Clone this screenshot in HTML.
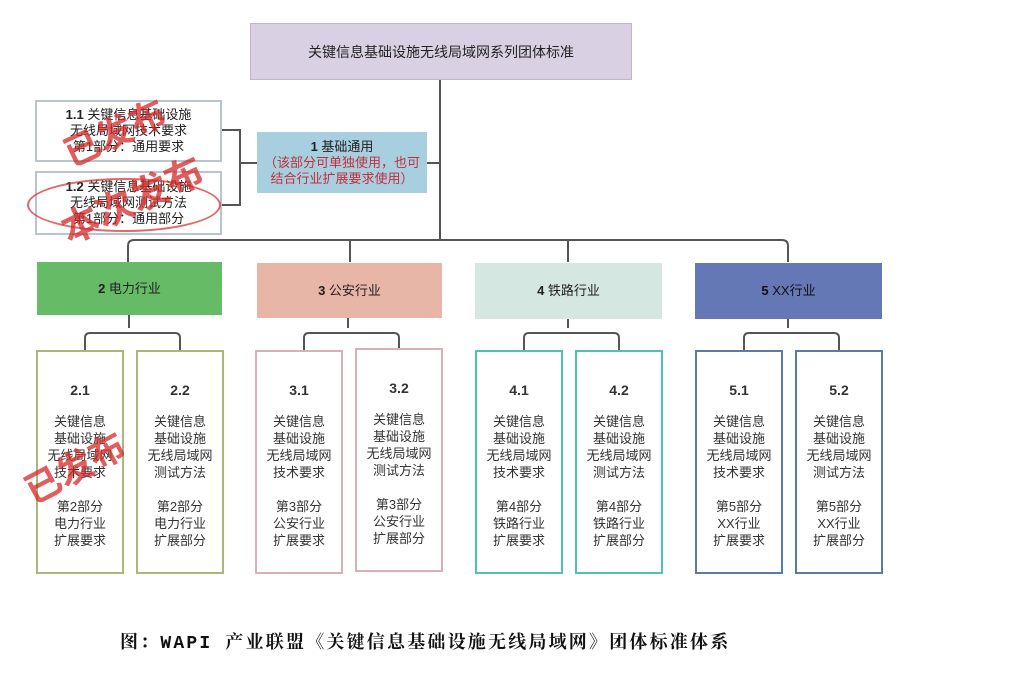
<!DOCTYPE html>
<html><head><meta charset="utf-8"><style>
body{margin:0;width:1027px;height:673px;background:#fff;position:relative;overflow:hidden;font-family:"Liberation Sans","Noto Sans CJK SC",sans-serif;color:#333}
.b{position:absolute;box-sizing:border-box;display:flex;align-items:center;justify-content:center;text-align:center;font-size:13px;line-height:16px}
.c{position:absolute;box-sizing:border-box;border:2px solid;text-align:center;font-size:13px;line-height:17px;padding-top:30px;width:88px;height:224px;background:#fff}
.c b{display:block;font-size:14px;margin-bottom:14px}
.st{position:absolute;color:rgba(215,40,40,.75);font-weight:bold;white-space:nowrap}
</style></head><body>
<svg style="position:absolute;left:0;top:0" width="1027" height="673" fill="none" stroke="#555" stroke-width="2">
<path d="M440 80V240M427 163H440"/>
<path d="M222 130H240V205H222M240 163H257"/>
<path d="M128 262V246Q128 240 134 240H782Q788 240 788 246V262M350 240V262M568 240V262"/>
<g id="br"><path d="M129 315V328M85 350V338Q85 333 90 333H175Q180 333 180 338V350"/></g>
<use href="#br" x="219"/><use href="#br" x="439"/><use href="#br" x="659"/>
</svg>
<div class="b" style="left:250px;top:23px;width:382px;height:57px;background:#d9d0e3;border:1px solid #c0b3d0;font-size:14px;color:#222">关键信息基础设施无线局域网系列团体标准</div>
<div class="b" style="left:35px;top:100px;width:187px;height:62px;border:2px solid #b8c4d0;background:#fff;color:#222"><div><b>1.1</b> 关键信息基础设施<br>无线局域网技术要求<br>第1部分：通用要求</div></div>
<div class="b" style="left:35px;top:171px;width:187px;height:64px;border:2px solid #b8c4d0;background:#fff;color:#222"><div><b>1.2</b> 关键信息基础设施<br>无线局域网测试方法<br>第1部分：通用部分</div></div>
<div class="b" style="left:257px;top:132px;width:170px;height:61px;background:#a8cfe0;color:#222"><div><b>1</b> 基础通用<br><span style="color:#c0303a">（该部分可单独使用，也可<br>结合行业扩展要求使用）</span></div></div>
<div class="b" style="left:37px;top:262px;width:185px;height:53px;background:#66bb66;color:#222"><b>2</b>&nbsp;电力行业</div>
<div class="b" style="left:257px;top:263px;width:185px;height:55px;background:#e8b6a6;color:#222"><b>3</b>&nbsp;公安行业</div>
<div class="b" style="left:475px;top:263px;width:187px;height:56px;background:#d4e8e1;color:#222"><b>4</b>&nbsp;铁路行业</div>
<div class="b" style="left:695px;top:263px;width:187px;height:56px;background:#6378b5;color:#111"><b>5</b>&nbsp;XX行业</div>
<div class="c" style="left:36px;top:350px;border-color:#a9b878"><b>2.1</b>关键信息<br>基础设施<br>无线局域网<br>技术要求<br><br>第2部分<br>电力行业<br>扩展要求</div>
<div class="c" style="left:136px;top:350px;border-color:#a9b878"><b>2.2</b>关键信息<br>基础设施<br>无线局域网<br>测试方法<br><br>第2部分<br>电力行业<br>扩展部分</div>
<div class="c" style="left:255px;top:350px;border-color:#d8b0b6"><b>3.1</b>关键信息<br>基础设施<br>无线局域网<br>技术要求<br><br>第3部分<br>公安行业<br>扩展要求</div>
<div class="c" style="left:355px;top:348px;border-color:#d8b0b6"><b>3.2</b>关键信息<br>基础设施<br>无线局域网<br>测试方法<br><br>第3部分<br>公安行业<br>扩展部分</div>
<div class="c" style="left:475px;top:350px;border-color:#4cc4b0"><b>4.1</b>关键信息<br>基础设施<br>无线局域网<br>技术要求<br><br>第4部分<br>铁路行业<br>扩展要求</div>
<div class="c" style="left:575px;top:350px;border-color:#4cc4b0"><b>4.2</b>关键信息<br>基础设施<br>无线局域网<br>测试方法<br><br>第4部分<br>铁路行业<br>扩展部分</div>
<div class="c" style="left:695px;top:350px;border-color:#5a7ca4"><b>5.1</b>关键信息<br>基础设施<br>无线局域网<br>技术要求<br><br>第5部分<br>XX行业<br>扩展要求</div>
<div class="c" style="left:795px;top:350px;border-color:#5a7ca4"><b>5.2</b>关键信息<br>基础设施<br>无线局域网<br>测试方法<br><br>第5部分<br>XX行业<br>扩展部分</div>
<div class="st" style="left:60px;top:105px;font-size:36px;transform:rotate(-25deg)">已发布</div>
<div class="st" style="left:55px;top:170px;font-size:38px;transform:rotate(-25deg)">本次发布</div>
<div style="position:absolute;left:27px;top:178px;width:190px;height:50px;border:2px solid rgba(215,40,40,.7);border-radius:50%"></div>
<div class="st" style="left:20px;top:440px;font-size:36px;transform:rotate(-28deg)">已发布</div>
<div style="position:absolute;left:120px;top:628px;font-size:18px;letter-spacing:2.2px;font-weight:bold;color:#111;font-family:'Liberation Mono','Noto Serif CJK SC',serif">图：WAPI 产业联盟《关键信息基础设施无线局域网》团体标准体系</div>
</body></html>
